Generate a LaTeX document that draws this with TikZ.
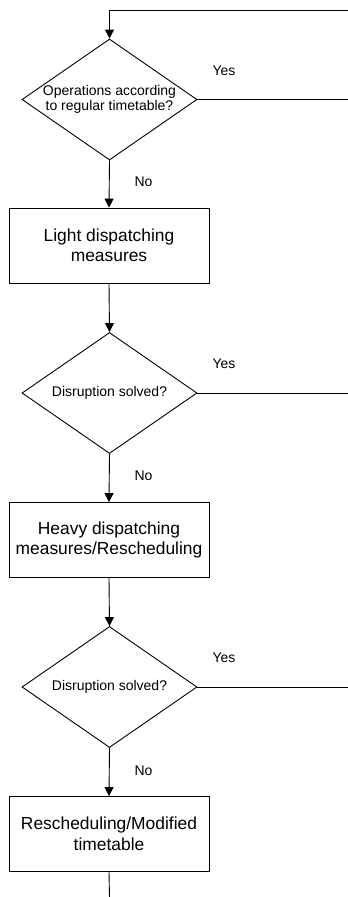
\documentclass[tikz,border=0pt]{standalone}
\usepackage{fontspec}
\setmainfont{Liberation Sans}
\usetikzlibrary{shapes.geometric,arrows.meta}

\tikzset{
  flow/.style={line width=0.9pt, draw=black},
  arr/.style={flow, -{Triangle[length=9pt,width=9pt]}},
  decision/.style={diamond, draw=black, line width=0.9pt, inner sep=0pt,
    aspect=1.45, minimum width=175pt, minimum height=121pt,
    align=center, font=\fontsize{14}{15.5}\selectfont},
  actbox/.style={rectangle, draw=black, line width=0.9pt, inner sep=0pt,
    minimum width=200pt, minimum height=75pt,
    align=center, font=\fontsize{17.4}{20.5}\selectfont},
  lbl/.style={font=\fontsize{14}{16}\selectfont, inner sep=0pt}
}

\begin{document}
\begin{tikzpicture}[x=1pt, y=-1pt]
  \useasboundingbox (0,0) rectangle (348,897);

  % decisions and actions down the main column
  \node[decision] (d1) at (109.5,99.5) {Operations according\\to regular timetable?};
  \node[actbox]   (b1) at (109,245.5) {Light dispatching\\measures};
  \node[decision] (d2) at (109.5,393) {Disruption solved?};
  \node[actbox]   (b2) at (109,540) {Heavy dispatching\\measures/Rescheduling};
  \node[decision] (d3) at (109.5,687) {Disruption solved?};
  \node[actbox]   (b3) at (109,834) {Rescheduling/Modified\\timetable};

  % loose ends at the picture's borders
  \coordinate (top) at (348,10);
  \coordinate (y1) at (348,99.5);
  \coordinate (y2) at (348,393);
  \coordinate (y3) at (348,687);
  \coordinate (out) at (109.5,897);

  % return line into the first decision
  \draw[arr] (top) -| (d1.north);

  % main flow
  \draw[arr] (d1.south) -- (b1.north);
  \draw[arr] (b1.south) -- (d2.north);
  \draw[arr] (d2.south) -- (b2.north);
  \draw[arr] (b2.south) -- (d3.north);
  \draw[arr] (d3.south) -- (b3.north);
  \draw[flow] (b3.south) -- (out);

  % "Yes" exits to the right
  \draw[flow] (d1.east) -- (y1);
  \draw[flow] (d2.east) -- (y2);
  \draw[flow] (d3.east) -- (y3);

  % branch labels
  \node[lbl] (yes1) at (224,71) {Yes};
  \node[lbl] (yes2) at (224,364) {Yes};
  \node[lbl] (yes3) at (224,658) {Yes};
  \node[lbl] (no1) at (143.5,182) {No};
  \node[lbl] (no2) at (143.5,476) {No};
  \node[lbl] (no3) at (143.5,771) {No};
\end{tikzpicture}
\end{document}
